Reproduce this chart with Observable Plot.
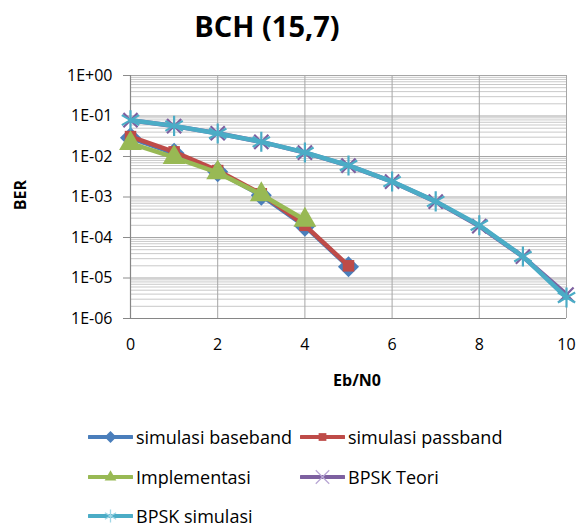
<!DOCTYPE html>
<html>
<head>
<meta charset="utf-8">
<script src="https://cdn.jsdelivr.net/npm/d3@7"></script>
<script src="https://cdn.jsdelivr.net/npm/@observablehq/plot@0.6"></script>
<style>
  body { margin: 0; background: #fff; font-family: "Open Sans", sans-serif; }
  #wrap { position: relative; width: 579px; height: 529px; overflow: hidden; }
  #title { position: absolute; left: 0; width: 534px; top: 6px; text-align: center; font-weight: bold; font-size: 29px; color: #000; }
  #chart { position: absolute; left: 0; top: 0; }
  #chart svg text { font-size: 16px; fill: #000; }
  #ylab { position: absolute; left: 20px; top: 195px; transform: translate(-50%, -50%) rotate(-90deg); font-weight: bold; font-size: 16px; }
  #xlab { position: absolute; left: 357px; top: 380px; transform: translate(-50%, -50%); font-weight: bold; font-size: 16px; }
  .leg { position: absolute; display: flex; align-items: center; font-size: 18px; color: #000; white-space: nowrap; }
  .leg svg { margin-right: 3px; }
</style>
</head>
<body>
<div id="wrap">
  <div id="chart"></div>
  <div id="title">BCH (15,7)</div>
  <div id="ylab">BER</div>
  <div id="xlab">Eb/N0</div>
  <div id="legend"></div>
</div>
<script>
// ---- data ----
const ebn0Short = [0, 1, 2, 3, 4, 5];
const ebn0Impl = [0, 1, 2, 3, 4];
const ebn0Long = [0, 1, 2, 3, 4, 5, 6, 7, 8, 9, 10];
const berBaseband = [0.029, 0.012, 0.0042, 0.0011, 0.00019, 0.000019];
const berPassband = [0.031, 0.013, 0.0045, 0.0012, 0.00020, 0.000020];
const berImplementasi = [0.021, 0.0095, 0.0040, 0.00115, 0.00027];
const berBpskTeori = [0.0786, 0.0563, 0.0375, 0.0229, 0.0125, 0.00595, 0.00239, 0.00077, 0.000191, 0.0000336, 0.0000039];
const berBpskSimulasi = [0.079, 0.057, 0.037, 0.023, 0.0126, 0.0060, 0.0024, 0.00078, 0.00020, 0.000034, 0.0000033];
const seriesNames = ["simulasi baseband", "simulasi passband", "Implementasi", "BPSK Teori", "BPSK simulasi"];
const seriesColors = ["#4a7ebb", "#be4b48", "#98b954", "#7d60a0", "#4bacc6"];
const seriesSymbols = ["diamond2", "square", "triangle", "times", "asterisk"];
const yTicks = [1, 1e-1, 1e-2, 1e-3, 1e-4, 1e-5, 1e-6];
const xTicks = [0, 2, 4, 6, 8, 10];

const series = [
  {x: ebn0Short, y: berBaseband},
  {x: ebn0Short, y: berPassband},
  {x: ebn0Impl, y: berImplementasi},
  {x: ebn0Long, y: berBpskTeori},
  {x: ebn0Long, y: berBpskSimulasi}
].map((s, i) => s.x.map((x, j) => ({x, y: s.y[j], name: seriesNames[i], k: i})));

const minorTicks = [];
for (let e = -6; e < 0; e++) for (let m = 2; m <= 9; m++) minorTicks.push(m * Math.pow(10, e));

const fmt = v => {
  const e = Math.round(Math.log10(v));
  return "1E" + (e >= 0 ? "+" : "-") + String(Math.abs(e)).padStart(2, "0");
};

const symSize = {diamond2: 9.5, square: 6.5, triangle: 8.5, times: 6.5, asterisk: 9.5};

const marks = [
  Plot.ruleY(minorTicks, {stroke: "#c9c9c9", strokeWidth: 1}),
  Plot.ruleY(yTicks.slice(0, -1), {stroke: "#a6a6a6", strokeWidth: 1}),
  Plot.ruleX(xTicks.slice(1), {stroke: "#a6a6a6", strokeWidth: 1}),
  Plot.axisY({ticks: yTicks, tickFormat: fmt, tickSize: 7, tickPadding: 11, stroke: "#8c8c8c", label: null}),
  Plot.axisX({ticks: xTicks, tickSize: 0, tickPadding: 20, label: null}),
  Plot.ruleX([0], {stroke: "#868686", strokeWidth: 1.2}),
  Plot.ruleY([1e-6], {x1: -0.16, x2: 10, stroke: "#868686", strokeWidth: 1.2})
];
series.forEach((data, i) => {
  const c = seriesColors[i];
  marks.push(Plot.line(data, {x: "x", y: "y", stroke: c, strokeWidth: 4.5}));
  const sym = seriesSymbols[i];
  const stroked = sym === "times" || sym === "asterisk";
  marks.push(Plot.dot(data, {
    x: "x", y: "y", symbol: () => sym, r: symSize[sym],
    fill: stroked ? "none" : c, stroke: c, strokeWidth: stroked ? 2.2 : 0
  }));
});

const plot = Plot.plot({
  width: 579, height: 380,
  marginTop: 75, marginBottom: 62, marginLeft: 130, marginRight: 13,
  style: {fontFamily: "Open Sans, sans-serif", fontSize: "16px", color: "#000", background: "transparent"},
  x: {domain: [0, 10]},
  y: {type: "log", domain: [1e-6, 1]},
  symbol: {type: "identity"},
  marks
});
document.getElementById("chart").appendChild(plot);

// legend
const d3Sym = {diamond2: d3.symbolDiamond2, square: d3.symbolSquare, triangle: d3.symbolTriangle, times: d3.symbolTimes, asterisk: d3.symbolAsterisk};
const legPos = [[88, 437], [300, 437], [88, 477], [300, 477], [88, 516]];
const legend = document.getElementById("legend");
seriesNames.forEach((name, i) => {
  const d = document.createElement("div");
  d.className = "leg";
  d.style.left = legPos[i][0] + "px";
  d.style.top = (legPos[i][1] - 12) + "px";
  d.style.height = "24px";
  const c = seriesColors[i];
  const s = seriesSymbols[i];
  const stroked = s === "times" || s === "asterisk";
  const path = d3.symbol(d3Sym[s], stroked ? 120 : s === "diamond2" ? 90 : 60)();
  d.innerHTML = `<svg width="45" height="24"><line x1="1" x2="44" y1="12" y2="12" stroke="${c}" stroke-width="4" stroke-linecap="round"/><path transform="translate(22.5,12)" d="${path}" fill="${stroked ? 'none' : c}" stroke="${stroked ? (s === 'times' ? '#b9a7d4' : '#9fd6e6') : 'none'}" stroke-width="1.3"/></svg><span>${name}</span>`;
  legend.appendChild(d);
});
</script>
</body>
</html>
